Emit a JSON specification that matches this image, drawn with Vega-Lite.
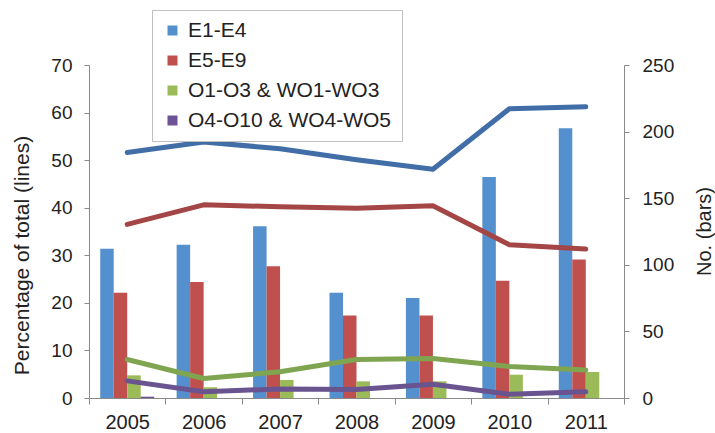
{
  "$schema": "https://vega.github.io/schema/vega-lite/v6.json",
  "width": 535,
  "height": 333,
  "autosize": "none",
  "padding": {"left": 89, "top": 65, "right": 91, "bottom": 35},
  "background": "white",
  "config": {
    "font": "Liberation Sans",
    "view": {"stroke": null},
    "axis": {
      "domainColor": "#898989",
      "tickColor": "#898989",
      "labelColor": "#222222",
      "titleColor": "#222222",
      "labelFontSize": 19,
      "titleFontSize": 21,
      "titleFontWeight": "normal",
      "labelFont": "Liberation Sans",
      "titleFont": "Liberation Sans",
      "grid": false,
      "tickSize": 5
    }
  },
  "datasets": {
    "bars": [
      {"Year": "2005", "Series": "E1-E4", "Count": 112},
      {"Year": "2005", "Series": "E5-E9", "Count": 79},
      {"Year": "2005", "Series": "O1-O3 & WO1-WO3", "Count": 17},
      {"Year": "2005", "Series": "O4-O10 & WO4-WO5", "Count": 1},
      {"Year": "2006", "Series": "E1-E4", "Count": 115},
      {"Year": "2006", "Series": "E5-E9", "Count": 87},
      {"Year": "2006", "Series": "O1-O3 & WO1-WO3", "Count": 8},
      {"Year": "2006", "Series": "O4-O10 & WO4-WO5", "Count": 0},
      {"Year": "2007", "Series": "E1-E4", "Count": 129},
      {"Year": "2007", "Series": "E5-E9", "Count": 99},
      {"Year": "2007", "Series": "O1-O3 & WO1-WO3", "Count": 13.5},
      {"Year": "2007", "Series": "O4-O10 & WO4-WO5", "Count": 0},
      {"Year": "2008", "Series": "E1-E4", "Count": 79},
      {"Year": "2008", "Series": "E5-E9", "Count": 62},
      {"Year": "2008", "Series": "O1-O3 & WO1-WO3", "Count": 12.5},
      {"Year": "2008", "Series": "O4-O10 & WO4-WO5", "Count": 0},
      {"Year": "2009", "Series": "E1-E4", "Count": 75},
      {"Year": "2009", "Series": "E5-E9", "Count": 62},
      {"Year": "2009", "Series": "O1-O3 & WO1-WO3", "Count": 12.5},
      {"Year": "2009", "Series": "O4-O10 & WO4-WO5", "Count": 0},
      {"Year": "2010", "Series": "E1-E4", "Count": 166},
      {"Year": "2010", "Series": "E5-E9", "Count": 88},
      {"Year": "2010", "Series": "O1-O3 & WO1-WO3", "Count": 17.5},
      {"Year": "2010", "Series": "O4-O10 & WO4-WO5", "Count": 0},
      {"Year": "2011", "Series": "E1-E4", "Count": 202.5},
      {"Year": "2011", "Series": "E5-E9", "Count": 104},
      {"Year": "2011", "Series": "O1-O3 & WO1-WO3", "Count": 19.5},
      {"Year": "2011", "Series": "O4-O10 & WO4-WO5", "Count": 0}
    ],
    "lines": [
      {"Year": "2005", "Series": "E1-E4", "Percent": 51.6},
      {"Year": "2006", "Series": "E1-E4", "Percent": 53.8},
      {"Year": "2007", "Series": "E1-E4", "Percent": 52.4},
      {"Year": "2008", "Series": "E1-E4", "Percent": 50.1},
      {"Year": "2009", "Series": "E1-E4", "Percent": 48.1},
      {"Year": "2010", "Series": "E1-E4", "Percent": 60.8},
      {"Year": "2011", "Series": "E1-E4", "Percent": 61.2},
      {"Year": "2005", "Series": "E5-E9", "Percent": 36.5},
      {"Year": "2006", "Series": "E5-E9", "Percent": 40.6},
      {"Year": "2007", "Series": "E5-E9", "Percent": 40.2},
      {"Year": "2008", "Series": "E5-E9", "Percent": 39.9},
      {"Year": "2009", "Series": "E5-E9", "Percent": 40.4},
      {"Year": "2010", "Series": "E5-E9", "Percent": 32.2},
      {"Year": "2011", "Series": "E5-E9", "Percent": 31.3},
      {"Year": "2005", "Series": "O1-O3 & WO1-WO3", "Percent": 8.1},
      {"Year": "2006", "Series": "O1-O3 & WO1-WO3", "Percent": 4.1},
      {"Year": "2007", "Series": "O1-O3 & WO1-WO3", "Percent": 5.5},
      {"Year": "2008", "Series": "O1-O3 & WO1-WO3", "Percent": 8.1},
      {"Year": "2009", "Series": "O1-O3 & WO1-WO3", "Percent": 8.3},
      {"Year": "2010", "Series": "O1-O3 & WO1-WO3", "Percent": 6.6},
      {"Year": "2011", "Series": "O1-O3 & WO1-WO3", "Percent": 5.9},
      {"Year": "2005", "Series": "O4-O10 & WO4-WO5", "Percent": 3.6},
      {"Year": "2006", "Series": "O4-O10 & WO4-WO5", "Percent": 1.3},
      {"Year": "2007", "Series": "O4-O10 & WO4-WO5", "Percent": 1.9},
      {"Year": "2008", "Series": "O4-O10 & WO4-WO5", "Percent": 1.8},
      {"Year": "2009", "Series": "O4-O10 & WO4-WO5", "Percent": 2.9},
      {"Year": "2010", "Series": "O4-O10 & WO4-WO5", "Percent": 0.8},
      {"Year": "2011", "Series": "O4-O10 & WO4-WO5", "Percent": 1.3}
    ]
  },
  "layer": [
    {
      "data": {"name": "bars"},
      "mark": {"type": "bar"},
      "encoding": {
        "x": {
          "field": "Year",
          "type": "ordinal",
          "scale": {"paddingInner": 0, "paddingOuter": 0},
          "axis": {
            "title": null,
            "labelAngle": 0,
            "labelFontSize": 20,
            "tickBand": "extent",
            "tickSize": 6,
            "labelPadding": 8
          }
        },
        "xOffset": {
          "field": "Series",
          "type": "nominal",
          "sort": ["E1-E4", "E5-E9", "O1-O3 & WO1-WO3", "O4-O10 & WO4-WO5"],
          "scale": {"paddingInner": 0, "paddingOuter": 0.83}
        },
        "y": {
          "field": "Count",
          "type": "quantitative",
          "scale": {"domain": [0, 250], "nice": false},
          "axis": {
            "orient": "right",
            "title": "No. (bars)",
            "titleFontSize": 20,
            "titleAngle": 270,
            "titleX": 80,
            "titleY": 166,
            "titleAlign": "center",
            "titleBaseline": "middle",
            "values": [0, 50, 100, 150, 200, 250],
            "labelPadding": 13
          }
        },
        "color": {
          "field": "Series",
          "type": "nominal",
          "sort": ["E1-E4", "E5-E9", "O1-O3 & WO1-WO3", "O4-O10 & WO4-WO5"],
          "scale": {"range": ["#5590CE", "#C0504D", "#9BBB59", "#6E5394"]},
          "legend": {
            "title": null,
            "orient": "none",
            "legendX": 63,
            "legendY": -55,
            "symbolType": "square",
            "symbolSize": 100,
            "symbolStrokeWidth": 0,
            "labelFontSize": 21,
            "labelFont": "Liberation Sans",
            "labelColor": "#222222",
            "labelOffset": 5,
            "labelLimit": 400,
            "rowPadding": 8,
            "padding": 10,
            "strokeColor": "#bfbfbf",
            "fillColor": "white"
          }
        }
      }
    },
    {
      "data": {"name": "lines"},
      "mark": {"type": "line", "strokeWidth": 5, "strokeCap": "round", "strokeJoin": "round"},
      "encoding": {
        "x": {"field": "Year", "type": "ordinal"},
        "y": {
          "field": "Percent",
          "type": "quantitative",
          "scale": {"domain": [0, 70], "nice": false},
          "axis": {
            "orient": "left",
            "title": "Percentage of total (lines)",
            "titleX": -67,
            "titleY": 190,
            "titleAlign": "center",
            "titleBaseline": "middle",
            "values": [0, 10, 20, 30, 40, 50, 60, 70],
            "labelPadding": 12
          }
        },
        "color": {
          "field": "Series",
          "type": "nominal",
          "sort": ["E1-E4", "E5-E9", "O1-O3 & WO1-WO3", "O4-O10 & WO4-WO5"],
          "scale": {"range": ["#426EA8", "#A44645", "#80A550", "#6A5490"]},
          "legend": null
        }
      }
    }
  ],
  "resolve": {"scale": {"y": "independent", "color": "independent"}}
}
